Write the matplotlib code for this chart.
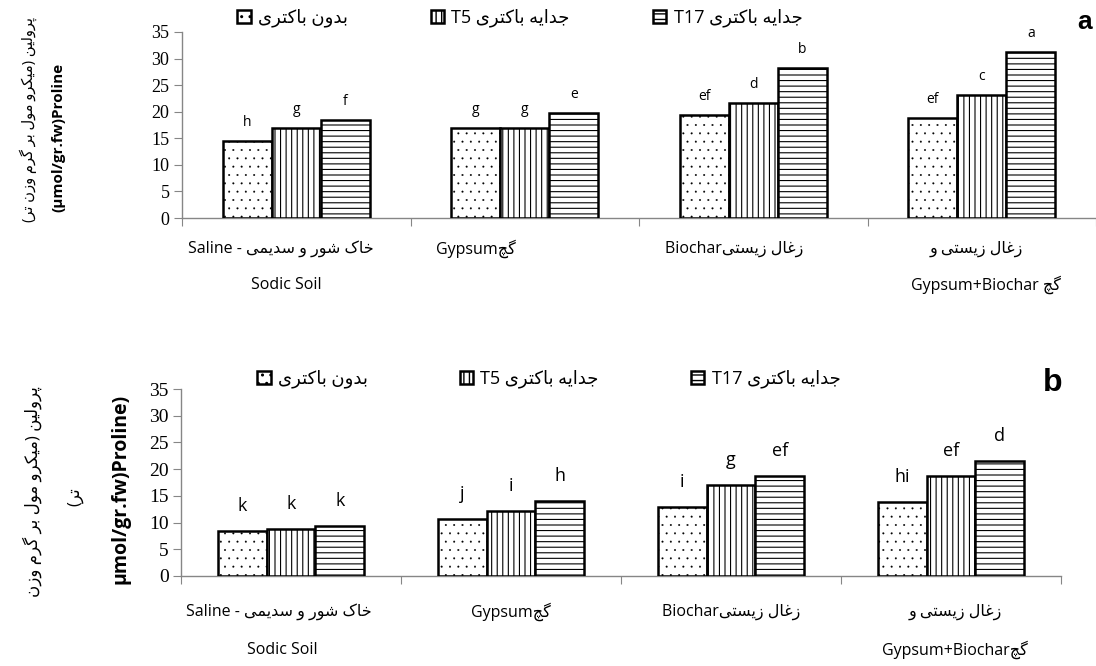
import matplotlib
matplotlib.use("Agg")
import matplotlib.pyplot as plt
import numpy as np
from matplotlib.patches import Patch
from matplotlib.font_manager import FontProperties

# contextual forms: isolated, final, initial, medial (None = right-joining letter)
FORMES = {
    'ا': ('\uFE8D', '\uFE8E', None, None),
    'ب': ('\uFE8F', '\uFE90', '\uFE91', '\uFE92'),
    'پ': ('\uFB56', '\uFB57', '\uFB58', '\uFB59'),
    'ت': ('\uFE95', '\uFE96', '\uFE97', '\uFE98'),
    'ج': ('\uFE9D', '\uFE9E', '\uFE9F', '\uFEA0'),
    'چ': ('\uFB7A', '\uFB7B', '\uFB7C', '\uFB7D'),
    'خ': ('\uFEA5', '\uFEA6', '\uFEA7', '\uFEA8'),
    'د': ('\uFEA9', '\uFEAA', None, None),
    'ر': ('\uFEAD', '\uFEAE', None, None),
    'ز': ('\uFEAF', '\uFEB0', None, None),
    'س': ('\uFEB1', '\uFEB2', '\uFEB3', '\uFEB4'),
    'ش': ('\uFEB5', '\uFEB6', '\uFEB7', '\uFEB8'),
    'غ': ('\uFECD', '\uFECE', '\uFECF', '\uFED0'),
    'ک': ('\uFB8E', '\uFB8F', '\uFB90', '\uFB91'),
    'گ': ('\uFB92', '\uFB93', '\uFB94', '\uFB95'),
    'ل': ('\uFEDD', '\uFEDE', '\uFEDF', '\uFEE0'),
    'م': ('\uFEE1', '\uFEE2', '\uFEE3', '\uFEE4'),
    'ن': ('\uFEE5', '\uFEE6', '\uFEE7', '\uFEE8'),
    'و': ('\uFEED', '\uFEEE', None, None),
    'ه': ('\uFEE9', '\uFEEA', '\uFEEB', '\uFEEC'),
    'ی': ('\uFBFC', '\uFBFD', '\uFBFE', '\uFBFF'),
}


def farsi(texte):
    """shape a persian string and return it in visual (left to right) order"""
    sortie = []
    n = len(texte)
    for i, c in enumerate(texte):
        if c not in FORMES:
            sortie.append(c)
            continue
        formes = FORMES[c]
        avant = texte[i - 1] if i > 0 else ''
        apres = texte[i + 1] if i < n - 1 else ''
        lie_avant = avant in FORMES and FORMES[avant][2] is not None
        lie_apres = formes[2] is not None and apres in FORMES
        if lie_avant and lie_apres:
            sortie.append(formes[3])
        elif lie_avant:
            sortie.append(formes[1])
        elif lie_apres:
            sortie.append(formes[2])
        else:
            sortie.append(formes[0])
    return ''.join(reversed(sortie)).translate(str.maketrans('()', ')('))


# ---- data ----
series_noms = [farsi("بدون باکتری"), "T5 " + farsi("جدایه باکتری"), "T17 " + farsi("جدایه باکتری")]

categories_a = [
    "Saline - " + farsi("خاک شور و سدیمی") + "\nSodic Soil",
    "Gypsum" + farsi("گچ"),
    "Biochar" + farsi("زغال زیستی"),
    farsi("زغال زیستی و") + "\nGypsum+Biochar " + farsi("گچ"),
]
categories_b = [
    "Saline - " + farsi("خاک شور و سدیمی") + "\nSodic Soil",
    "Gypsum" + farsi("گچ"),
    "Biochar" + farsi("زغال زیستی"),
    farsi("زغال زیستی و") + "\nGypsum+Biochar" + farsi("گچ"),
]

proline_a_temoin = [14.5, 16.9, 19.3, 18.9]
proline_a_t5 = [16.9, 16.9, 21.7, 23.2]
proline_a_t17 = [18.4, 19.7, 28.3, 31.3]
lettres_a_temoin = ['h', 'g', 'ef', 'ef']
lettres_a_t5 = ['g', 'g', 'd', 'c']
lettres_a_t17 = ['f', 'e', 'b', 'a']

proline_b_temoin = [8.4, 10.7, 12.9, 13.9]
proline_b_t5 = [8.8, 12.2, 17.0, 18.8]
proline_b_t17 = [9.4, 14.1, 18.8, 21.6]
lettres_b_temoin = ['k', 'j', 'i', 'hi']
lettres_b_t5 = ['k', 'i', 'g', 'ef']
lettres_b_t17 = ['k', 'h', 'ef', 'd']

ylabel_fa = "پرولین (میکرو مول بر گرم وزن تر)"
ylabel_fa_b1 = "پرولین (میکرو مول بر گرم وزن"
ylabel_fa_b2 = "تر)"

hachures = ['..', '|||', '---']
epaisseur_hachures = [0.2, 0.8, 0.8]
POLICE = ['Open Sans', 'DejaVu Sans']
GRIS = '#868686'

W, H = 1096, 666
fig = plt.figure(figsize=(W / 100, H / 100), dpi=100)


def px(x0, y0, x1, y1):
    # pixel box (from top left) -> figure fraction rect
    return [x0 / W, 1 - y1 / H, (x1 - x0) / W, (y1 - y0) / H]


def panneau(rect, valeurs, lettres, categories, largeur, taille_ticks, taille_lettres,
            decal_lettres, decal_cat, y_cat):
    ax = fig.add_axes(rect)
    x = np.arange(len(categories))
    for i, (vals, lets) in enumerate(zip(valeurs, lettres)):
        pos = x + (i - 1) * largeur
        with plt.rc_context({'hatch.linewidth': epaisseur_hachures[i]}):
            ax.bar(pos, vals, largeur, facecolor='white', edgecolor='black', linewidth=1.8,
                   hatch=hachures[i], zorder=3)
        for xp, v, l in zip(pos, vals, lets):
            ax.annotate(l, (xp, v), xytext=(0, decal_lettres), textcoords='offset pixels',
                        ha='center', va='baseline', fontsize=taille_lettres, family=POLICE)
    ax.set_xlim(-0.5, len(categories) - 0.5)
    ax.set_ylim(0, 35)
    ax.set_yticks(range(0, 36, 5))
    ax.set_xticks(np.arange(-0.5, len(categories), 1.0))
    ax.set_xticklabels([])
    for s in ['top', 'right']:
        ax.spines[s].set_visible(False)
    for s in ['left', 'bottom']:
        ax.spines[s].set_color(GRIS)
        ax.spines[s].set_linewidth(1.0)
    ax.tick_params(axis='y', length=6, color=GRIS, labelsize=taille_ticks, pad=3)
    ax.tick_params(axis='x', length=6, color=GRIS)
    for t in ax.get_yticklabels():
        t.set_family('Liberation Serif')
    for i, (cat, dx) in enumerate(zip(categories, decal_cat)):
        lignes = cat.split('\n')
        for j, ligne in enumerate(lignes):
            ax.annotate(ligne, (i, 0), xycoords=('data', 'axes fraction'),
                        xytext=(dx[j], -y_cat[j]), textcoords='offset pixels',
                        ha='center', va='center', fontsize=11.5, family=POLICE)
    return ax


# panel a
ax_a = panneau(px(182, 32, 1096, 218),
               [proline_a_temoin, proline_a_t5, proline_a_t17],
               [lettres_a_temoin, lettres_a_t5, lettres_a_t17],
               categories_a, 0.215, 13, 10, 15,
               [(-15, -10), (-49,), (-19,), (-5, 4)], (31, 67))

# panel b
ax_b = panneau(px(181, 389, 1061, 576),
               [proline_b_temoin, proline_b_t5, proline_b_t17],
               [lettres_b_temoin, lettres_b_t5, lettres_b_t17],
               categories_b, 0.222, 14, 13, 20,
               [(-12, -9), (0,), (0,), (4, 4)], (36, 74))

# legends
poignees = []
for h, e in zip(hachures, epaisseur_hachures):
    with plt.rc_context({'hatch.linewidth': e}):
        poignees.append(Patch(facecolor='white', edgecolor='black', hatch=h, linewidth=1.8))
fig.legend(poignees, series_noms, loc='center left', bbox_to_anchor=(237 / W, 1 - 18 / H),
           ncol=3, frameon=False, borderpad=0, borderaxespad=0, handlelength=0.75,
           handleheight=0.75, handletextpad=0.4, columnspacing=4.6,
           prop=FontProperties(family=POLICE, size=13))
fig.legend(poignees, series_noms, loc='center left', bbox_to_anchor=(257 / W, 1 - 379 / H),
           ncol=3, frameon=False, borderpad=0, borderaxespad=0, handlelength=0.75,
           handleheight=0.75, handletextpad=0.4, columnspacing=5.1,
           prop=FontProperties(family=POLICE, size=13))

# y labels
fig.text(28 / W, 1 - 120 / H, farsi(ylabel_fa), rotation=90, ha='center', va='center',
         fontsize=10.5, family=POLICE)
fig.text(58 / W, 1 - 137 / H, "(µmol/gr.fw)Proline", rotation=90, ha='center', va='center',
         fontsize=11, family=POLICE, fontweight='bold')
fig.text(32 / W, 1 - 492 / H, farsi(ylabel_fa_b1), rotation=90, ha='center', va='center',
         fontsize=12, family=POLICE)
fig.text(75 / W, 1 - 497 / H, farsi(ylabel_fa_b2), rotation=90, ha='center', va='center',
         fontsize=12, family=POLICE)
fig.text(120 / W, 1 - 489 / H, "µmol/gr.fw)Proline)", rotation=90, ha='center', va='center',
         fontsize=14, family=POLICE, fontweight='bold')

# panel letters
fig.text(1085 / W, 1 - 22 / H, "a", ha='center', va='center', fontsize=19,
         family='Liberation Sans', fontweight='bold')
fig.text(1053 / W, 1 - 383 / H, "b", ha='center', va='center', fontsize=23,
         family='Liberation Sans', fontweight='bold')

fig.savefig('out.png', dpi=100)
